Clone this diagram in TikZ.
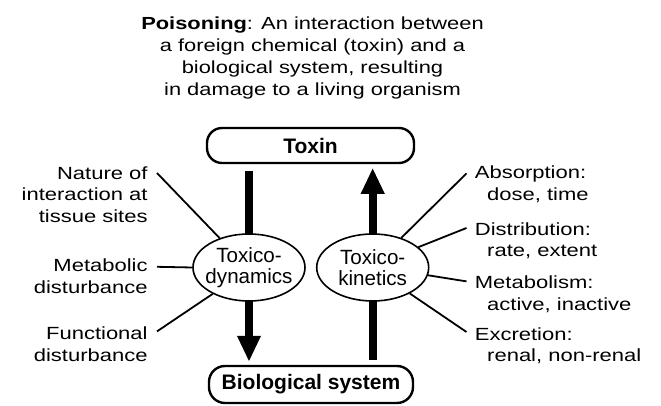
\documentclass[tikz,border=0pt]{standalone}
\usepackage{fontspec}
\setmainfont{Liberation Sans}
\newfontfamily\widesans{Liberation Sans}[FakeStretch=1.25]
\usetikzlibrary{shapes.geometric, arrows.meta, calc}

\begin{document}
\begin{tikzpicture}[
  x=0.5pt, y=-0.5pt,
  box/.style={rectangle, draw=black, line width=1.2pt, minimum width=103.5pt, minimum height=17.5pt,
    text centered, fill=white, font=\fontsize{10.5}{12}\selectfont\bfseries, rounded corners=7.5pt, inner sep=0pt},
  phase/.style={ellipse, draw=black, line width=0.8pt, fill=white, minimum width=56pt, minimum height=33.5pt,
    inner xsep=-4pt, inner ysep=0pt, align=center, font=\fontsize{10.3}{10.3}\selectfont},
  note/.style={inner sep=0pt, font=\widesans\fontsize{8.8}{10.75}\selectfont},
  arrow/.style={-{Triangle[length=13pt, width=11pt]}, line width=4pt},
  link/.style={line width=0.9pt}
]
\useasboundingbox (0,0) rectangle (661,406);

\node (title) [anchor=north, align=center, inner sep=0pt, font=\widesans\fontsize{8.75}{11}\selectfont] at (312.5,16)
  {\textbf{Poisoning}: An interaction between\\ a foreign chemical (toxin) and a\\ biological system, resulting\\ in damage to a living organism};

\node (toxin) [box] at (310.5,145.5) {Toxin};
\node (bio) [box, minimum width=102pt, minimum height=18.5pt, rounded corners=8pt] at (311,384.5) {Biological system};

% thick arrows go under the ellipses
\coordinate (tdpos) at (249,267.5);
\coordinate (tkpos) at (372.7,267.5);
\draw [arrow, shorten <=3.5pt, shorten >=1.5pt] (tdpos |- toxin.south) -- (tdpos |- bio.north);
\draw [arrow, shorten <=2.5pt, shorten >=1.8pt] (tkpos |- bio.north) -- (tkpos |- toxin.south);

\node (td) [phase] at (tdpos) {Toxico-\\dynamics};
\node (tk) [phase] at (tkpos) {Toxico-\\kinetics};

% left side
\node (nature) [note, anchor=north east, align=right] at (148,166) {Nature of\\interaction at\\tissue sites};
\node (metab) [note, anchor=north east, align=right] at (148,258.8) {Metabolic\\disturbance};
\node (func) [note, anchor=north east, align=right] at (148,326.4) {Functional\\disturbance};

% right side
\node (absorb) [note, anchor=north west, align=left] at (474.5,165.4) {Absorption:\\\hspace*{0.7em}dose, time};
\node (distr) [note, anchor=north west, align=left] at (474.5,222) {Distribution:\\\hspace*{0.7em}rate, extent};
\node (metabo) [note, anchor=north west, align=left] at (474.5,275.4) {Metabolism:\\\hspace*{0.7em}active, inactive};
\node (excr) [note, anchor=north west, align=left] at (474.5,327) {Excretion:\\\hspace*{0.7em}renal, non-renal};

\draw [link] ([shift={(9,7)}]nature.north east) -- (td.135);
\draw [link] ([shift={(9,8)}]metab.north east) -- (td.180);
\draw [link] ([shift={(9,5)}]func.north east) -- (td.216);
\draw [link] ([shift={(-8,8)}]absorb.north west) -- (tk.46);
\draw [link] ([shift={(-8,6)}]distr.north west) -- (tk.24);
\draw [link] ([shift={(-8,6)}]metabo.north west) -- (tk.-8);
\draw [link] ([shift={(-8,5)}]excr.north west) -- (tk.-35);

\end{tikzpicture}
\end{document}
